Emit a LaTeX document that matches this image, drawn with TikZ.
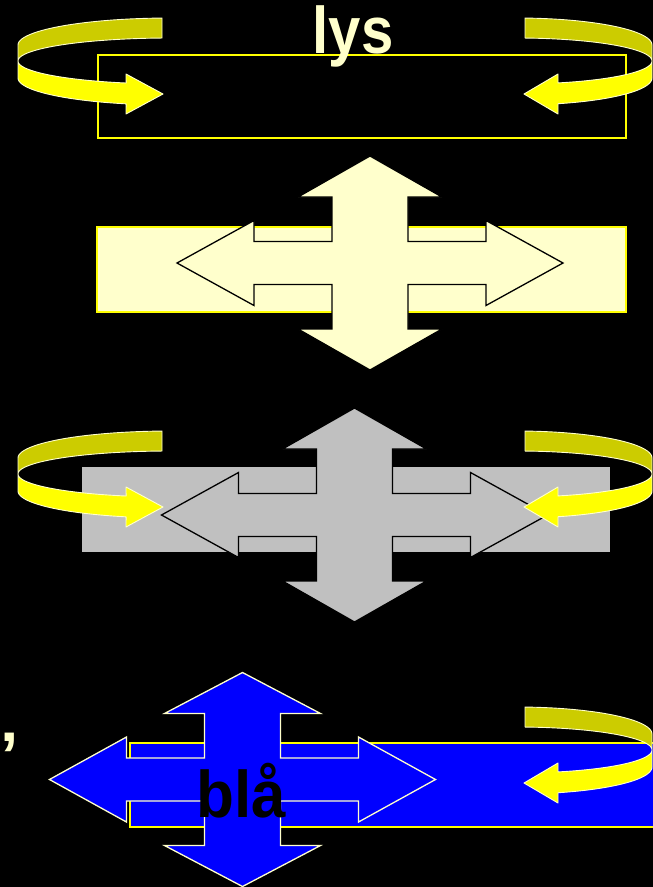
\documentclass[tikz,border=0pt]{standalone}
\usepackage{fontspec}
\usepackage{graphicx}
\setmainfont{Liberation Sans}
\definecolor{lyel}{HTML}{FFFFCC}
\definecolor{yel}{HTML}{FFFF00}
\definecolor{dyel}{HTML}{CCCC00}
\definecolor{greyc}{HTML}{C0C0C0}
\definecolor{bluec}{HTML}{0000FF}
\tikzset{
  loopback/.style={fill=dyel, draw=lyel, line width=0.9pt, line join=round},
  loopfront/.style={fill=yel, draw=lyel, line width=0.9pt, line join=round},
  bigtext/.style={font=\bfseries\fontsize{66}{66}\selectfont, inner sep=0pt},
  framebox/.style={draw=yel, line width=1.6pt},
}
% left curved arrow, #1 = vertical offset
\newcommand\LoopL[1]{%
  \draw[loopback] plot[domain=267:180,samples=50,variable=\t] ({170+152*cos(\t)},{#1+45+27*sin(\t)})
     -- plot[domain=180:267,samples=50,variable=\t] ({170+152*cos(\t)},{#1+61+23*sin(\t)}) -- cycle;
  \draw[loopfront] plot[domain=180:106.8,samples=50,variable=\t] ({170+152*cos(\t)},{#1+61+23*sin(\t)})
     -- (126,{#1+74}) -- (163,{#1+94}) -- (126,{#1+114})
     -- plot[domain=106.8:180,samples=50,variable=\t] ({170+152*cos(\t)},{#1+78+27*sin(\t)}) -- cycle;}
% right curved arrow
\newcommand\LoopR[1]{%
  \draw[loopback] plot[domain=273.4:360,samples=50,variable=\t] ({517+135*cos(\t)},{#1+45+27*sin(\t)})
     -- plot[domain=360:273.4,samples=50,variable=\t] ({517+135*cos(\t)},{#1+61+23*sin(\t)}) -- cycle;
  \draw[loopfront] plot[domain=0:72.3,samples=50,variable=\t] ({517+135*cos(\t)},{#1+61+23*sin(\t)})
     -- (558,{#1+74}) -- (524,{#1+94}) -- (558,{#1+114})
     -- plot[domain=72.3:0,samples=50,variable=\t] ({517+135*cos(\t)},{#1+78+27*sin(\t)}) -- cycle;}
% four-way arrow: #1 style, #2 cx, #3 cy, #4 head half width
\newcommand\CrossArrow[4]{%
  \draw[#1, shift={(#2,#3)}] (0,-107) -- (#4,-66) -- (38,-66) -- (38,-21.5) -- (116,-21.5) -- (116,-42.5)
    -- (193,0) -- (116,42.5) -- (116,21.5) -- (38,21.5) -- (38,66) -- (#4,66) -- (0,107)
    -- (-#4,66) -- (-38,66) -- (-38,21.5) -- (-116,21.5) -- (-116,42.5) -- (-193,0)
    -- (-116,-42.5) -- (-116,-21.5) -- (-38,-21.5) -- (-38,-66) -- (-#4,-66) -- cycle;}
\begin{document}
\begin{tikzpicture}[x=1pt,y=-1pt]
\useasboundingbox (0,0) rectangle (653,887);
\fill[black] (0,0) rectangle (653,887);
\clip (0,0) rectangle (653,887);
% ---- section 1
\draw[framebox] (98,55) rectangle (626,138);
\node[bigtext, text=lyel, anchor=base] (lys) at (353,53) {\scalebox{0.88}[1]{lys}};
\LoopL{0}
\LoopR{0}
% ---- section 2
\draw[framebox, fill=lyel] (97,227) rectangle (626,312);
\CrossArrow{fill=lyel, draw=black, line width=1.3pt}{370}{263}{72}
% ---- section 3
\fill[greyc] (82,467) rectangle (610,552);
\CrossArrow{fill=greyc, draw=black, line width=1.3pt}{354.5}{515}{72}
\LoopL{413}
\LoopR{413}
% ---- section 4
\draw[framebox, fill=bluec] (130,743) rectangle (670,827);
\CrossArrow{fill=bluec, draw=lyel, line width=1.3pt}{242.5}{779.5}{78}
\node[bigtext, text=black, anchor=base] (bla) at (241,817) {\scalebox{0.94}[1]{blå}};
\LoopR{689}
\node[bigtext, text=lyel, anchor=base west] (apos) at (0,778) {’};
\end{tikzpicture}
\end{document}
